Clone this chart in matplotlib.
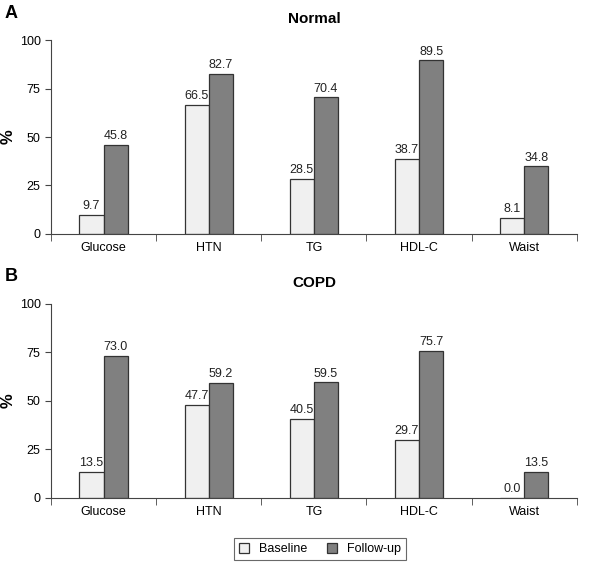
import numpy as np
import matplotlib.pyplot as plt

categories = ['Glucose', 'HTN', 'TG', 'HDL-C', 'Waist']
normal_baseline = [9.7, 66.5, 28.5, 38.7, 8.1]
normal_followup = [45.8, 82.7, 70.4, 89.5, 34.8]
copd_baseline = [13.5, 47.7, 40.5, 29.7, 0.0]
copd_followup = [73.0, 59.2, 59.5, 75.7, 13.5]
yticks = [0, 25, 50, 75, 100]

plt.rcParams['font.family'] = ['Liberation Sans', 'DejaVu Sans']

fig = plt.figure(figsize=(5.94, 5.65), dpi=100)
ax1 = fig.add_axes([0.086, 0.586, 0.885, 0.343])
ax2 = fig.add_axes([0.086, 0.119, 0.885, 0.343])

x = np.arange(len(categories))
w = 0.23


def draw(ax, base, follow, title):
    b1 = ax.bar(x - w / 2, base, w, color='#f0f0f0', edgecolor='#333333', linewidth=0.9, label='Baseline')
    b2 = ax.bar(x + w / 2, follow, w, color='#808080', edgecolor='#333333', linewidth=0.9, label='Follow-up')
    for bars, vals in ((b1, base), (b2, follow)):
        for r, v in zip(bars, vals):
            ax.text(r.get_x() + r.get_width() / 2, v + 1.5, '%.1f' % v,
                    ha='center', va='bottom', fontsize=9, color='#222222')
    ax.set_xlim(-0.5, len(categories) - 0.5)
    ax.set_ylim(0, 100)
    ax.set_yticks(yticks)
    ax.set_xticks(x)
    ax.set_xticklabels(categories)
    ax.set_xticks(np.arange(-0.5, len(categories), 1), minor=True)
    ax.tick_params(axis='x', which='major', length=0, pad=6, labelsize=9)
    ax.tick_params(axis='x', which='minor', length=5, direction='out', color='#444444')
    ax.tick_params(axis='y', length=4, direction='out', labelsize=9, color='#444444')
    for s in ('top', 'right'):
        ax.spines[s].set_visible(False)
    for s in ('left', 'bottom'):
        ax.spines[s].set_color('#444444')
    ax.set_ylabel('%', fontsize=12, fontweight='bold')
    ax.yaxis.set_label_coords(-0.068, 0.5)
    ax.set_title(title, fontsize=11, fontweight='bold', pad=12)
    return b1, b2


draw(ax1, normal_baseline, normal_followup, 'Normal')
b1, b2 = draw(ax2, copd_baseline, copd_followup, 'COPD')

fig.text(0.008, 0.968, 'A', fontsize=13, fontweight='bold')
fig.text(0.008, 0.503, 'B', fontsize=13, fontweight='bold')

leg = fig.legend([b1, b2], ['Baseline', 'Follow-up'], loc='center', bbox_to_anchor=(0.539, 0.028),
                 ncol=2, fontsize=9, frameon=True, fancybox=False, edgecolor='#444444',
                 handlelength=0.8, handleheight=0.8, columnspacing=1.6, borderpad=0.4)
leg.get_frame().set_linewidth(0.8)

fig.savefig('out.png', dpi=100)
